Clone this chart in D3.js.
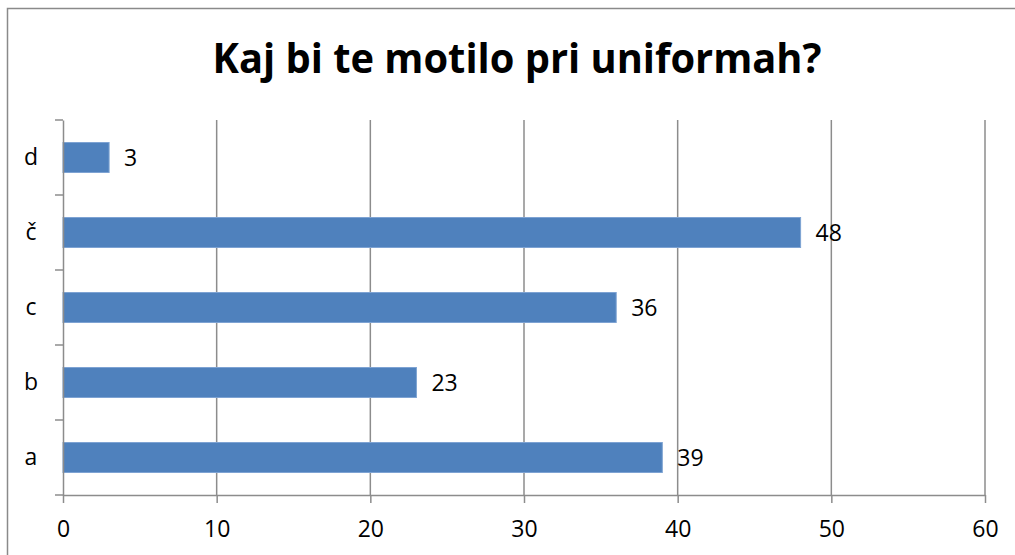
<!DOCTYPE html>
<html><head><meta charset="utf-8">
<script src="https://cdnjs.cloudflare.com/ajax/libs/d3/7.8.5/d3.min.js"></script>
<style>body{margin:0;background:#fff}svg{display:block}</style>
</head><body>
<svg id="c" width="1015" height="555"></svg>
<script>
const title = "Kaj bi te motilo pri uniformah?";
const categories = ["a", "b", "c", "č", "d"];
const values = [39, 23, 36, 48, 3];
const xTicks = [0, 10, 20, 30, 40, 50, 60];

const svg = d3.select("#c");
const font = "'Open Sans', 'Liberation Sans', sans-serif";
const fs = 23;
const m = {left: 63, right: 985, top: 120, bottom: 495};

svg.append("rect").attr("x", 7.5).attr("y", 8.5).attr("width", 1100).attr("height", 700)
  .attr("fill", "#fff").attr("stroke", "#8a8a8a").attr("stroke-width", 1.5);

const x = d3.scaleLinear().domain([0, 60]).range([m.left, m.right]);
const yb = d3.scaleBand().domain(categories.slice().reverse()).range([m.top, m.bottom]);

const grid = "#8c8c8c";
// gridlines
svg.append("g").selectAll("line").data(xTicks.slice(1)).join("line")
  .attr("x1", d => x(d)).attr("x2", d => x(d)).attr("y1", m.top).attr("y2", m.bottom)
  .attr("stroke", grid).attr("stroke-width", 1.5);

// bars
svg.append("g").selectAll("rect").data(categories).join("rect")
  .attr("x", x(0)).attr("y", (d) => yb(d) + yb.bandwidth() * 0.3)
  .attr("width", (d, i) => x(values[i]) - x(0)).attr("height", yb.bandwidth() * 0.4)
  .attr("fill", "#4f81bd").attr("stroke", "#7ea3d3").attr("stroke-width", 1);

// value labels
svg.append("g").selectAll("text").data(categories).join("text")
  .attr("x", (d, i) => x(values[i]) + 15).attr("y", d => yb(d) + yb.bandwidth() / 2)
  .attr("dy", "0.36em").attr("font-family", font).attr("font-size", fs).attr("fill", "#000")
  .text((d, i) => values[i]);

// x axis
const xa = svg.append("g").attr("transform", `translate(0,${m.bottom})`)
  .call(d3.axisBottom(x).tickValues(xTicks).tickSize(8).tickSizeOuter(0).tickPadding(18));
xa.select(".domain").attr("stroke", grid).attr("stroke-width", 1.5);
xa.selectAll(".tick line").attr("stroke", grid).attr("stroke-width", 1.5);
xa.selectAll(".tick text").attr("font-family", font).attr("font-size", fs).attr("fill", "#000");

// y axis
const ya = svg.append("g").attr("transform", `translate(${m.left},0)`)
  .call(d3.axisLeft(yb).tickSize(0).tickPadding(26));
ya.select(".domain").attr("stroke", grid).attr("stroke-width", 1.5);
ya.selectAll(".tick text").attr("font-family", font).attr("font-size", fs).attr("fill", "#000")
  .attr("text-anchor", "middle").attr("x", -32);
// y ticks at band boundaries
const bounds = yb.domain().map(d => yb(d)).concat([m.bottom]);
svg.append("g").selectAll("line").data(bounds).join("line")
  .attr("x1", m.left - 8).attr("x2", m.left).attr("y1", d => d).attr("y2", d => d)
  .attr("stroke", grid).attr("stroke-width", 1.5);

// title
svg.append("text").attr("x", 517).attr("y", 73).attr("text-anchor", "middle")
  .attr("font-family", font).attr("font-weight", "bold").attr("font-size", 41).attr("fill", "#000")
  .attr("textLength", 609).attr("lengthAdjust", "spacingAndGlyphs")
  .text(title);
</script>
</body></html>
